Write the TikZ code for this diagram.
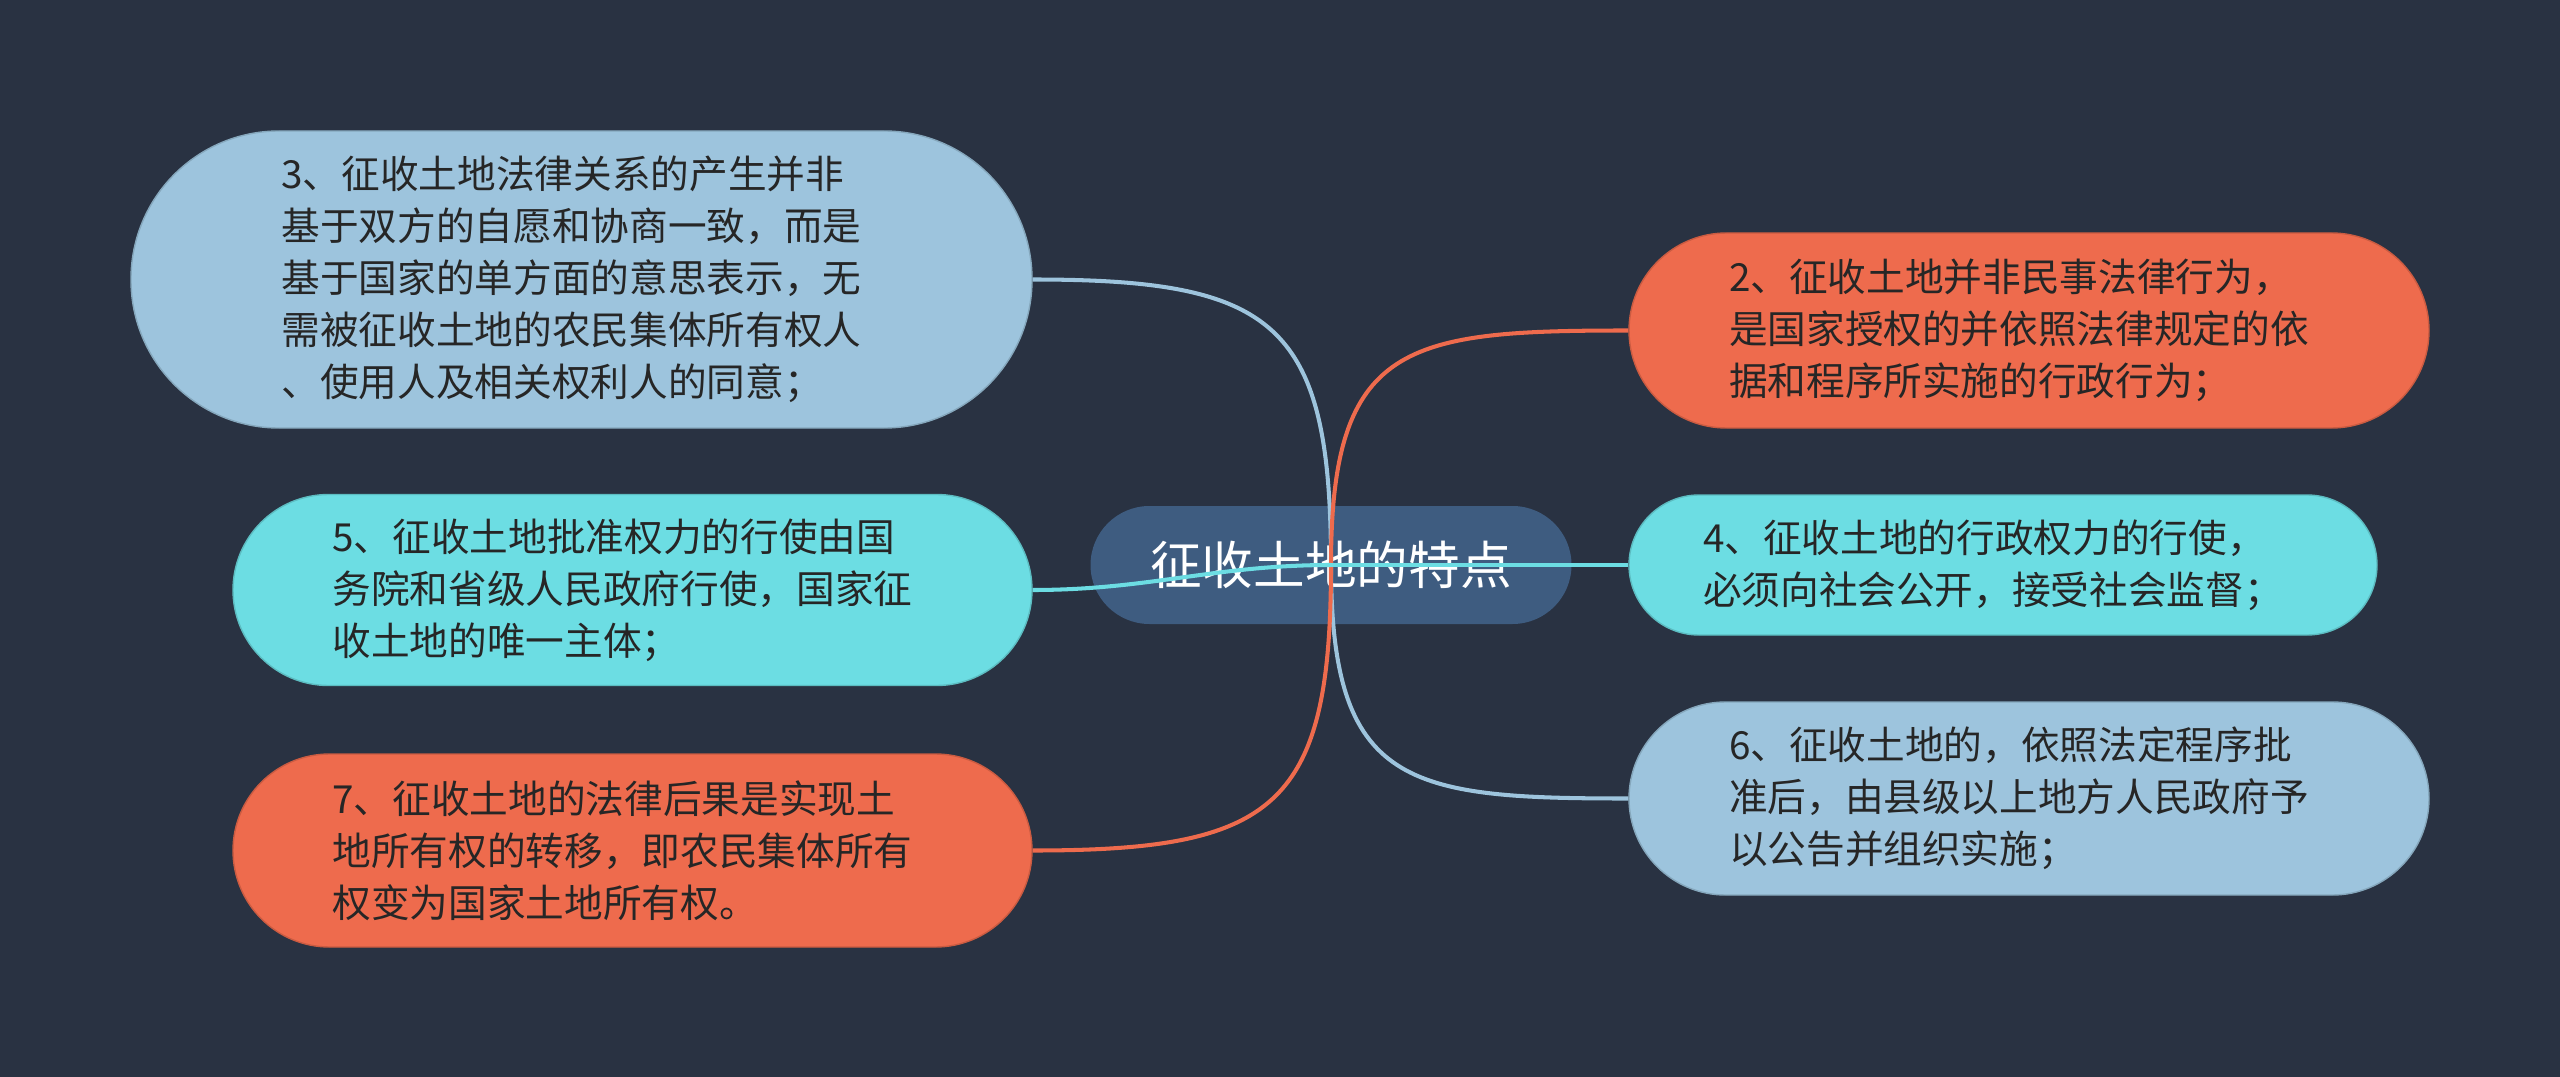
\documentclass[tikz,border=0pt]{standalone}
\usepackage{fontspec}
\setmainfont{Noto Sans CJK SC}
\definecolor{mapbg}{RGB}{41,50,66}
\definecolor{mapcenter}{RGB}{62,92,128}
\definecolor{mapblue}{RGB}{157,196,221}
\definecolor{mapcyan}{RGB}{108,221,227}
\definecolor{maporange}{RGB}{238,107,77}
\definecolor{maptext}{RGB}{38,38,38}
\usetikzlibrary{positioning}

\begin{document}
\begin{tikzpicture}[
  topic/.style={align=left,text width=6cm,inner sep=0pt,text=maptext,
                font=\fontsize{11}{14.8}\selectfont},
  link/.style={line width=1.15pt}
]
  % Background (fixes the picture size)
  \fill[mapbg] (0,0) rectangle (25.6,-10.77);
  \useasboundingbox (0,0) rectangle (25.6,-10.77);

  % Central topic
  \node[fill=mapcenter,rounded corners=0.59cm,minimum width=4.81cm,minimum height=1.18cm,
        text=white,font=\fontsize{14.7}{18}\selectfont]
        (root) at (13.31,-5.65) {征收土地的特点};

  % Left branch
  \node[topic,fill=mapblue,draw=mapblue!85!black,rounded corners=1.48cm,
        minimum width=9.01cm,minimum height=2.97cm]
        (t3) at (5.815,-2.795) {3、征收土地法律关系的产生并非\\基于双方的自愿和协商一致，而是\\基于国家的单方面的意思表示，无\\需被征收土地的农民集体所有权人\\、使用人及相关权利人的同意；};
  \node[topic,fill=mapcyan,draw=mapcyan!85!black,rounded corners=0.955cm,
        minimum width=7.99cm,minimum height=1.91cm]
        (t5) at (6.325,-5.90) {5、征收土地批准权力的行使由国\\务院和省级人民政府行使，国家征\\收土地的唯一主体；};
  \node[topic,fill=maporange,draw=maporange!85!black,rounded corners=0.965cm,
        minimum width=7.99cm,minimum height=1.93cm]
        (t7) at (6.325,-8.505) {7、征收土地的法律后果是实现土\\地所有权的转移，即农民集体所有\\权变为国家土地所有权。};

  % Right branch
  \node[topic,fill=maporange,draw=maporange!85!black,rounded corners=0.975cm,
        minimum width=8.00cm,minimum height=1.95cm]
        (t2) at (20.29,-3.305) {2、征收土地并非民事法律行为，\\是国家授权的并依照法律规定的依\\据和程序所实施的行政行为；};
  \node[topic,fill=mapcyan,draw=mapcyan!85!black,rounded corners=0.70cm,
        minimum width=7.48cm,minimum height=1.40cm]
        (t4) at (20.03,-5.65) {4、征收土地的行政权力的行使，\\必须向社会公开，接受社会监督；};
  \node[topic,fill=mapblue,draw=mapblue!85!black,rounded corners=0.965cm,
        minimum width=8.00cm,minimum height=1.93cm]
        (t6) at (20.29,-7.985) {6、征收土地的，依照法定程序批\\准后，由县级以上地方人民政府予\\以公告并组织实施；};

  % Connectors from the central topic
  \draw[link,mapblue] (root.center) to[out=90,in=0,looseness=1.5] (t3.east);
  \draw[link,mapblue] (root.center) to[out=-90,in=180,looseness=1.5] (t6.west);
  \draw[link,maporange] (root.center) to[out=90,in=180,looseness=1.5] (t2.west);
  \draw[link,maporange] (root.center) to[out=-90,in=0,looseness=1.5] (t7.east);
  \draw[link,mapcyan] (root.center) -- (t4.west);
  \draw[link,mapcyan] (root.center) to[out=180,in=0] (t5.east);
\end{tikzpicture}
\end{document}
